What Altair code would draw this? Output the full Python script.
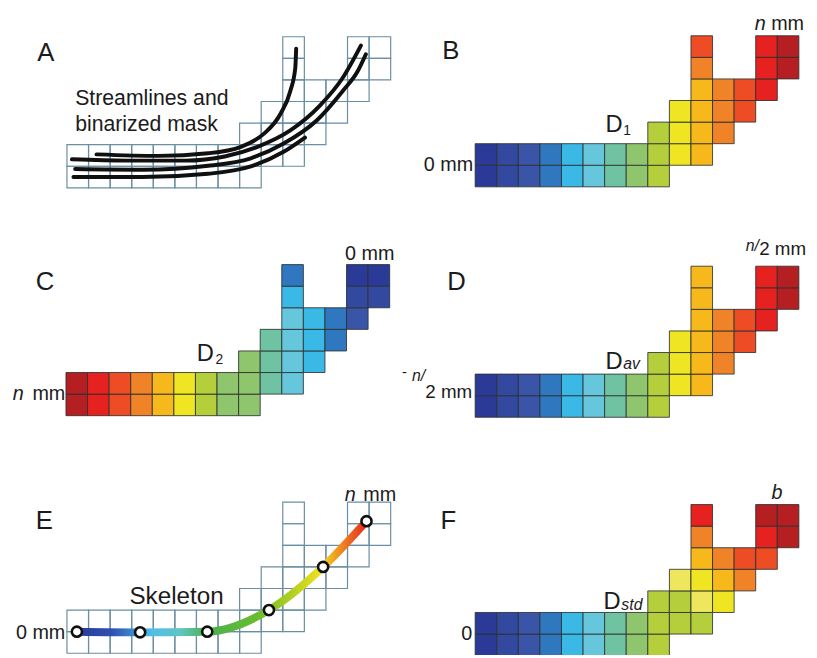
import altair as alt
import pandas as pd

# ---------------- data ----------------
# binarized mask: columns occupied in each row (row 0 = bottom)
MASK_ROWS = [
    [0, 1, 2, 3, 4, 5, 6, 7, 8],
    [0, 1, 2, 3, 4, 5, 6, 7, 8, 9, 10],
    [8, 9, 10, 11],
    [9, 10, 11, 12],
    [10, 11, 12, 13],
    [10, 13, 14],
    [10, 13, 14],
]

# colour level of each mask cell (same order as MASK_ROWS)
D1_LEVELS = [
    [0, 1, 2, 3, 4, 5, 6, 7, 8],
    [0, 1, 2, 3, 4, 5, 6, 7, 8, 9, 10],
    [8, 9, 10, 11],
    [9, 10, 11, 12],
    [10, 11, 12, 13],
    [11, 13, 14],
    [12, 13, 14],
]
D2_LEVELS = [
    [14, 13, 12, 11, 10, 9, 8, 7, 7],
    [14, 13, 12, 11, 10, 9, 8, 7, 7, 6, 5],
    [7, 6, 5, 4],
    [6, 5, 4, 3],
    [5, 4, 3, 2],
    [4, 1, 1],
    [3, 0, 0],
]
DAV_LEVELS = [
    [0, 1, 2, 3, 4, 5, 6, 7, 8],
    [0, 1, 2, 3, 4, 5, 6, 7, 8, 9, 10],
    [8, 9, 10, 11],
    [9, 10, 11, 12],
    [10, 11, 12, 13],
    [10, 13, 14],
    [10, 13, 14],
]
DSTD_LEVELS = [
    [0, 1, 2, 3, 4, 5, 6, 7, 8],
    [0, 1, 2, 3, 4, 5, 6, 7, 8, 8, 8],
    [8, 8, 15, 9],
    [15, 9, 10, 11],
    [10, 11, 12, 12],
    [11, 13, 14],
    [13, 14, 14],
]

# streamlines (cell units)
STREAM_X = [
    [1.37, 4.26, 6.54, 8.06, 9.13, 9.89, 10.35, 10.58, 10.62],
    [0.23, 2.74, 5.48, 7.31, 8.83, 10.35, 11.72, 12.78, 13.62],
    [0.38, 3.50, 6.54, 8.52, 10.04, 11.57, 12.78, 13.47, 13.85],
    [0.30, 3.50, 6.54, 8.52, 10.04, 11.03],
]
STREAM_Y = [
    [1.55, 1.48, 1.60, 1.90, 2.51, 3.42, 4.49, 5.56, 6.44],
    [1.32, 1.26, 1.26, 1.45, 1.90, 2.66, 3.81, 5.10, 6.59],
    [0.87, 0.84, 1.02, 1.37, 2.05, 3.12, 4.49, 5.40, 6.19],
    [0.50, 0.50, 0.65, 0.99, 1.67, 2.33],
]

# skeleton points (cell units)
SKEL_X = [0.46, 3.39, 6.50, 9.36, 11.87, 13.88]
SKEL_Y = [1.00, 0.97, 1.00, 2.00, 4.00, 6.12]

# ---------------- style / layout ----------------
PALETTE = ["#2b3a97", "#33489f", "#3a54a8", "#2f78bf", "#3ab8e6", "#66c6dc",
           "#6fc3a3", "#8fc56c", "#b5cf3c", "#efe522", "#f7b81c", "#f08228",
           "#ee4c25", "#e5221f", "#b51f22", "#eee65c"]
SKEL_STOPS = [(0.0, "#2b3a97"), (0.12, "#3050b0"), (0.2, "#3a8fd0"), (0.26, "#50c0e8"),
              (0.36, "#60c4c0"), (0.45, "#4cb050"), (0.62, "#68bc30"), (0.74, "#b0d020"),
              (0.84, "#f0e020"), (0.91, "#f08a20"), (1.0, "#e42a20")]
FONT = "Liberation Sans"
TXT = "#1b1b1b"
GRID_STROKE = "#6a8ea2"
CELL_STROKE = "#2a3030"
CELL = 21.85
LEFT_W, RIGHT_W = 401, 408
ROW_H = [210, 220, 220]
GRID_POS = {"A": (58.7, 177.0), "B": (71.0, 176.0), "C": (57.7, 197.7),
            "D": (71.0, 199.3), "E": (58.7, 218.25), "F": (71.0, 220.65)}

# (text, x, y, size, italic, align) in panel pixels
LABELS = {
    "A": [("A", 28.7, 48.7, 26, False, "left"),
          ("Streamlines and", 67, 93.3, 21.5, False, "left"),
          ("binarized mask", 67, 119.5, 21.5, False, "left")],
    "B": [("B", 37.7, 47, 26, False, "left"),
          ("n", 354, 17, 20, True, "left"),
          ("mm", 404, 17, 20, False, "right"),
          ("0 mm", 69, 160.3, 20, False, "right"),
          ("D", 203, 120.3, 24, False, "left"),
          ("1", 221, 124, 14, False, "left")],
    "C": [("C", 27, 70, 26, False, "left"),
          ("0 mm", 340.3, 40.3, 20, False, "left"),
          ("n", 3.7, 182, 20, True, "left"),
          ("mm", 57, 182, 20, False, "right"),
          ("D", 190, 142, 24, False, "left"),
          ("2", 209, 145, 14, False, "left")],
    "D": [("D", 42.7, 70, 26, False, "left"),
          ("n/", 345, 31, 16, True, "left"),
          ("2 mm", 406, 35.3, 19, False, "right"),
          ("-", -3, 159, 15, False, "left"),
          ("n/", 7, 163, 16, True, "left"),
          ("2 mm", 68, 180, 19, False, "right"),
          ("D", 203, 150, 24, False, "left"),
          ("av", 221, 150.5, 16, True, "left")],
    "E": [("E", 27, 92, 26, False, "left"),
          ("n", 340, 63.7, 20, True, "left"),
          ("mm", 392, 63.7, 20, False, "right"),
          ("0 mm", 57, 203.7, 20, False, "right"),
          ("Skeleton", 122, 168.7, 24.5, False, "left")],
    "F": [("F", 36, 92, 26, False, "left"),
          ("b", 371, 62, 20, True, "left"),
          ("0", 68, 205.3, 20, False, "right"),
          ("D", 201, 173.7, 24, False, "left"),
          ("std", 219, 174.7, 16, True, "left")],
}

ONE = pd.DataFrame({"k": [0]})


def cell_df(levels):
    recs = []
    for r, cols in enumerate(MASK_ROWS):
        for k, c in enumerate(cols):
            recs.append({"col": c, "row": r, "level": levels[r][k] if levels else 0})
    return pd.DataFrame(recs)


def panel(name, levels, width, height, streams=False, skeleton=False):
    gl, gb = GRID_POS[name]
    xs = alt.Scale(domain=[-gl / CELL, (width - gl) / CELL], nice=False, zero=False)
    ys = alt.Scale(domain=[-(height - gb) / CELL, gb / CELL], nice=False, zero=False)
    base = alt.Chart(cell_df(levels)).transform_calculate(
        c1="datum.col + 1", r1="datum.row + 1")
    enc = dict(x=alt.X("col:Q", scale=xs, axis=None), x2="c1:Q",
               y=alt.Y("row:Q", scale=ys, axis=None), y2="r1:Q")
    if levels is None:
        rect = base.mark_rect(fill="transparent", stroke=GRID_STROKE,
                              strokeWidth=1.2, clip=True).encode(**enc)
    else:
        rect = base.mark_rect(stroke=CELL_STROKE, strokeWidth=1, strokeOpacity=0.85,
                              clip=True).encode(
            color=alt.Color("level:O", scale=alt.Scale(domain=list(range(16)), range=PALETTE),
                            legend=None), **enc)
    layers = [rect]
    if streams:
        recs = []
        for ci, (xx, yy) in enumerate(zip(STREAM_X, STREAM_Y)):
            for i, (a, b) in enumerate(zip(xx, yy)):
                recs.append({"curve": ci, "i": i, "x": a, "y": b})
        layers.append(alt.Chart(pd.DataFrame(recs)).mark_line(
            color="#101010", strokeWidth=4, interpolate="monotone", strokeCap="round").encode(
            x=alt.X("x:Q", scale=xs, axis=None), y=alt.Y("y:Q", scale=ys, axis=None),
            detail="curve:N", order="i:Q"))
    if skeleton:
        sk = pd.DataFrame({"i": list(range(len(SKEL_X))), "x": SKEL_X, "y": SKEL_Y})
        grad = alt.LinearGradient(gradient="linear",
                                  stops=[alt.GradientStop(offset=o, color=c) for o, c in SKEL_STOPS],
                                  x1=0, x2=1, y1=0, y2=0)
        layers.append(alt.Chart(sk).mark_line(stroke=grad, strokeWidth=8, interpolate="monotone").encode(
            x=alt.X("x:Q", scale=xs, axis=None), y=alt.Y("y:Q", scale=ys, axis=None), order="i:Q"))
        layers.append(alt.Chart(sk).mark_circle(fill="white", stroke="#101010", strokeWidth=2.6,
                                                size=105, opacity=1).encode(
            x=alt.X("x:Q", scale=xs, axis=None), y=alt.Y("y:Q", scale=ys, axis=None)))
    for (t, x, y, s, it, al) in LABELS[name]:
        layers.append(alt.Chart(ONE).mark_text(
            text=t, font=FONT, fontSize=s, fontStyle="italic" if it else "normal",
            align=al, baseline="alphabetic", color=TXT).encode(x=alt.value(x), y=alt.value(y)))
    return alt.layer(*layers).properties(width=width, height=height)


pA = panel("A", None, LEFT_W, ROW_H[0], streams=True)
pB = panel("B", D1_LEVELS, RIGHT_W, ROW_H[0])
pC = panel("C", D2_LEVELS, LEFT_W, ROW_H[1])
pD = panel("D", DAV_LEVELS, RIGHT_W, ROW_H[1])
pE = panel("E", None, LEFT_W, ROW_H[2], skeleton=True)
pF = panel("F", DSTD_LEVELS, RIGHT_W, ROW_H[2])

chart = alt.ConcatChart(concat=[pA, pB, pC, pD, pE, pF], columns=2, spacing=0,
                        bounds="flush", padding=0,
                        background="white").configure_view(stroke="transparent")

chart.save("out.html", embed_options={"renderer": "svg", "actions": False})
